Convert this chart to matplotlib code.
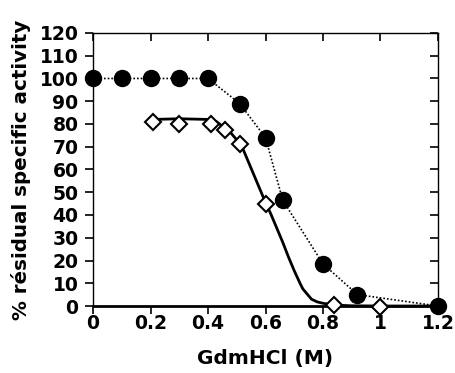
import matplotlib
matplotlib.use('Agg')
import matplotlib.pyplot as plt

# filled circles (dotted line)
circ_x = [0, 0.1, 0.2, 0.3, 0.4, 0.51, 0.6, 0.66, 0.8, 0.92, 1.2]
circ_y = [100, 100, 100, 100, 100, 89, 74, 46.5, 18.5, 5, 0]

# open diamonds
diam_x = [0.21, 0.3, 0.41, 0.46, 0.51, 0.6, 0.84, 1.0]
diam_y = [81, 80, 80, 77.5, 71, 45, 0.5, -0.5]

# fitted curve
fit_x = [0.21, 0.3, 0.4, 0.43, 0.45, 0.48, 0.5, 0.52, 0.55, 0.57, 0.59, 0.62,
         0.64, 0.66, 0.68, 0.70, 0.72, 0.73, 0.75, 0.76, 0.78, 0.8, 0.84, 0.9, 1.0, 1.2]
fit_y = [82, 82.3, 82, 81, 79, 76, 73, 69.5, 60.5, 54.5, 48.5, 40,
         34, 28, 21.5, 15.5, 10, 7.5, 4.5, 3, 1.8, 1.2, 0.4, 0.1, 0, 0]

xticks = [0, 0.2, 0.4, 0.6, 0.8, 1.0, 1.2]
xlabels = ['0', '0.2', '0.4', '0.6', '0.8', '1', '1.2']
yticks = list(range(0, 130, 10))

plt.rcParams['font.family'] = ['DejaVu Sans']
plt.rcParams['font.weight'] = 'bold'

fig = plt.figure(figsize=(4.56, 3.73), dpi=100)
ax = fig.add_axes([0.204, 0.1796, 0.7565, 0.732])

ax.plot(fit_x, fit_y, color='black', lw=2, zorder=2, clip_on=False)
ax.plot(circ_x, circ_y, color='black', lw=1.2, linestyle=(0, (1, 1.2)), zorder=2, clip_on=False)
ax.plot(diam_x, diam_y, linestyle='none', marker='D', ms=8.5, mfc='white', mec='black',
        mew=1.5, zorder=3, clip_on=False)
ax.plot(circ_x, circ_y, linestyle='none', marker='o', ms=11.5, mfc='black', mec='black',
        zorder=4, clip_on=False)

ax.set_xlim(0, 1.2)
ax.set_ylim(0, 120)
ax.set_xticks(xticks)
ax.set_xticklabels(xlabels)
ax.set_yticks(yticks)

for s in ['left', 'top', 'right']:
    ax.spines[s].set_linewidth(1.0)
ax.spines['bottom'].set_linewidth(2.0)

ax.tick_params(axis='both', which='major', labelsize=13.5, width=1.2, length=6, direction='out')
ax.tick_params(top=True, right=True)
ax.tick_params(axis='x', which='major', pad=0)
ax.tick_params(axis='y', which='major', pad=4.5)
for t in ax.xaxis.get_major_ticks():
    t.tick2line.set_marker(3)  # pointing down from top
for t in ax.yaxis.get_major_ticks():
    t.tick2line.set_marker(0)  # pointing left from right

for lab in ax.get_xticklabels() + ax.get_yticklabels():
    lab.set_fontweight('bold')

ax.set_xlabel('GdmHCl (M)', fontsize=14.5, fontweight='bold', labelpad=11)
ax.set_ylabel('% résidual specific activity', fontsize=14.3, fontweight='bold', labelpad=6)

fig.savefig('out.png', dpi=100)
